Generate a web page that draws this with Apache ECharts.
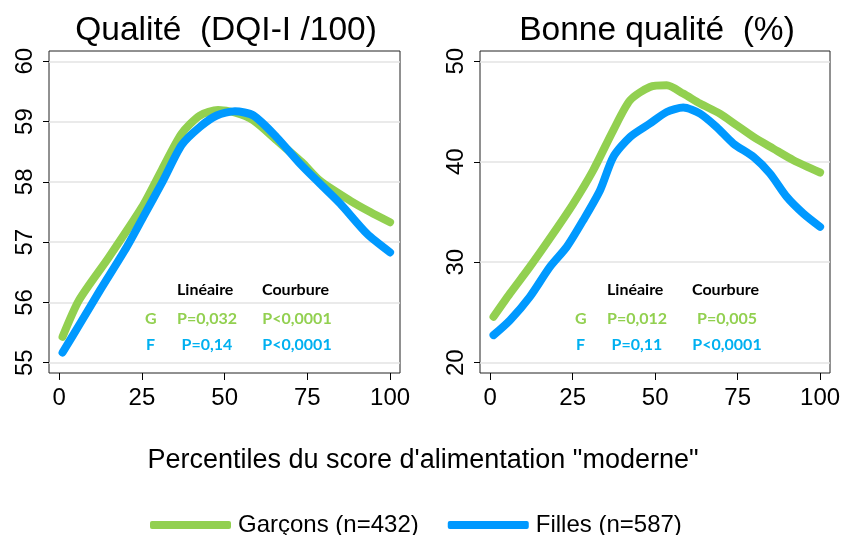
<!DOCTYPE html>
<html>
<head>
<meta charset="utf-8">
<script src="https://cdn.jsdelivr.net/npm/echarts@6/dist/echarts.min.js"></script>
<style>
  html, body { margin: 0; padding: 0; background: #fff; }
  #chart { width: 846px; height: 535px; }
</style>
</head>
<body>
<div id="chart"></div>
<script>
// percentile positions (x) and fitted values (y)
var qualX_G = [1, 6, 15, 25, 31, 37, 42.5, 48, 53, 58.7, 65.7, 73.8, 78.8, 87.9, 94, 100];
var qualY_G = [55.43, 56.04, 56.75, 57.58, 58.2, 58.80, 59.10, 59.19, 59.15, 59.02, 58.69, 58.30, 58.02, 57.69, 57.5, 57.33];
var qualX_F = [1, 6.3, 12.3, 20.4, 25.4, 31.4, 37, 42.5, 47.6, 53.1, 58.7, 65.7, 72.8, 78.8, 84.9, 93, 100];
var qualY_F = [55.17, 55.65, 56.2, 56.92, 57.42, 58.02, 58.61, 58.91, 59.10, 59.17, 59.10, 58.74, 58.30, 57.97, 57.64, 57.14, 56.83];

var bonX_G = [1, 6, 12, 19.1, 25.2, 31.2, 37.3, 42.4, 48.4, 53.5, 58.5, 63.6, 69.6, 74.7, 79.8, 85.8, 91.9, 100];
var bonY_G = [24.57, 26.9, 29.54, 32.86, 35.84, 39.15, 43.13, 46.12, 47.44, 47.6, 46.78, 45.79, 44.79, 43.63, 42.47, 41.31, 40.15, 38.93];
var bonX_F = [1, 6, 12, 18.1, 23.2, 28.2, 33.3, 37.3, 42.4, 48.4, 53.5, 58.5, 63.6, 68.6, 73.7, 79.8, 84.8, 89.9, 94.9, 100];
var bonY_F = [22.75, 24.24, 26.56, 29.54, 31.53, 34.19, 37.17, 40.48, 42.47, 43.80, 44.95, 45.39, 44.79, 43.46, 41.81, 40.48, 38.83, 36.5, 34.85, 33.52];

var xTicks = [0, 25, 50, 75, 100];
var qualTicks = [55, 56, 57, 58, 59, 60];
var bonTicks = [20, 30, 40, 50];

var names = ['Garçons (n=432)', 'Filles (n=587)'];
var green = '#92D050';
var blue = '#0099FF';
var blueText = '#00B0F0';

function pairs(xs, ys) {
    return xs.map(function (x, i) { return [x, ys[i]]; });
}

function xAxisFor(idx) {
    return {
        type: 'value', gridIndex: idx, min: -3.1, max: 103,
        axisLine: { show: false, onZero: false },
        axisTick: { show: true, length: 7, lineStyle: { color: '#000' }, customValues: xTicks },
        axisLabel: { customValues: xTicks, fontSize: 24, color: '#000', margin: 13, fontFamily: 'Liberation Sans' },
        splitLine: { show: false }
    };
}

function yAxisFor(idx, lo, hi, ticks) {
    return {
        type: 'value', gridIndex: idx, min: lo, max: hi,
        axisLine: { show: false, onZero: false },
        axisTick: { show: true, length: 6, lineStyle: { color: '#000' }, customValues: ticks },
        axisLabel: { customValues: ticks, rotate: 90, fontSize: 24, color: '#000', margin: 12, fontFamily: 'Liberation Sans' },
        splitLine: { show: true, lineStyle: { color: '#e3e3e3', width: 1.5 } }
    };
}

function line(name, data, color, idx) {
    return {
        name: name, type: 'line', xAxisIndex: idx, yAxisIndex: idx,
        data: data, smooth: 0.25, showSymbol: false, symbol: 'none',
        lineStyle: { color: color, width: 8, cap: 'round', join: 'round' },
        itemStyle: { color: color }
    };
}

// the little P-value table in each panel
function pTable(x0, lin, courb) {
    var f = 'Lato';
    var rows = [];
    rows.push({ type: 'text', left: x0 + 27, top: 282, style: { text: 'Linéaire', font: 'bold 16px ' + f, fill: '#000' } });
    rows.push({ type: 'text', left: x0 + 112, top: 282, style: { text: 'Courbure', font: 'bold 16px ' + f, fill: '#000' } });
    rows.push({ type: 'text', left: x0 - 5, top: 311, style: { text: 'G', font: 'bold 16px ' + f, fill: green } });
    rows.push({ type: 'text', x: x0 + 57, y: 311, style: { text: lin[0], font: 'bold 16px ' + f, fill: green, textAlign: 'center' } });
    rows.push({ type: 'text', x: x0 + 147, y: 311, style: { text: courb[0], font: 'bold 16px ' + f, fill: green, textAlign: 'center' } });
    rows.push({ type: 'text', left: x0 - 4, top: 337, style: { text: 'F', font: 'bold 16px ' + f, fill: blueText } });
    rows.push({ type: 'text', x: x0 + 57, y: 337, style: { text: lin[1], font: 'bold 16px ' + f, fill: blueText, textAlign: 'center' } });
    rows.push({ type: 'text', x: x0 + 147, y: 337, style: { text: courb[1], font: 'bold 16px ' + f, fill: blueText, textAlign: 'center' } });
    return rows;
}

var chart = echarts.init(document.getElementById('chart'));
var option = {
    backgroundColor: '#fff',
    animation: false,
    textStyle: { fontFamily: 'Liberation Sans' },
    title: [
        { text: 'Qualité  (DQI-I /100)', left: 221, top: 9, textAlign: 'center',
          textStyle: { fontSize: 33.5, fontWeight: 'normal', color: '#000' } },
        { text: 'Bonne qualité  (%)', left: 652, top: 9, textAlign: 'center',
          textStyle: { fontSize: 33.5, fontWeight: 'normal', color: '#000' } },
        { text: 'Percentiles du score d\'alimentation "moderne"', left: 418, top: 442, textAlign: 'center',
          textStyle: { fontSize: 27, fontWeight: 'normal', color: '#000' } }
    ],
    legend: {
        data: names, left: 145, top: 508,
        icon: 'roundRect', itemWidth: 81, itemHeight: 8, itemGap: 29,
        textStyle: { fontSize: 24, color: '#000', padding: [0, 0, 0, 2] }
    },
    grid: [
        { left: 49, top: 51, width: 351, height: 322, show: true, borderColor: '#222', borderWidth: 1, backgroundColor: 'transparent' },
        { left: 480, top: 51, width: 350, height: 322, show: true, borderColor: '#222', borderWidth: 1, backgroundColor: 'transparent' }
    ],
    xAxis: [xAxisFor(0), xAxisFor(1)],
    yAxis: [yAxisFor(0, 54.83, 60.17, qualTicks), yAxisFor(1, 18.98, 51.02, bonTicks)],
    series: [
        line(names[0], pairs(qualX_G, qualY_G), green, 0),
        line(names[1], pairs(qualX_F, qualY_F), blue, 0),
        line(names[0], pairs(bonX_G, bonY_G), green, 1),
        line(names[1], pairs(bonX_F, bonY_F), blue, 1)
    ],
    graphic: pTable(150, ['P=0,032', 'P=0,14'], ['P<0,0001', 'P<0,0001'])
        .concat(pTable(580, ['P=0,012', 'P=0,11'], ['P=0,005', 'P<0,0001']))
};
chart.setOption(option);
</script>
</body>
</html>
